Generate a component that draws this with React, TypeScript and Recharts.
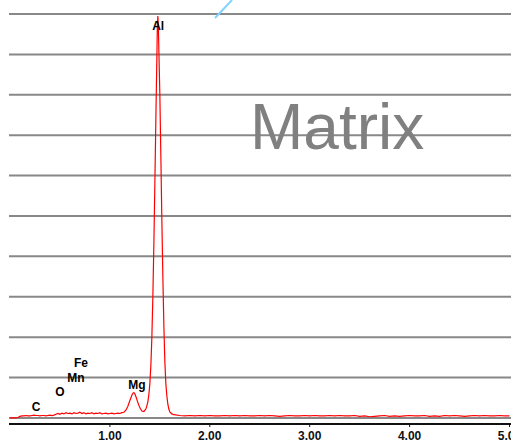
import { LineChart, Line, XAxis, YAxis, CartesianGrid, ReferenceDot } from "recharts";

// EDS spectrum, energy in keV, counts as % of the Al peak
const lowBackground: [number, number][] = [
  [0.0, 0], [0.02, 0], [0.04, 0], [0.06, 0], [0.08, 0.1], [0.1, 0.4],
  [0.12, 0.5], [0.14, 0.5], [0.16, 0.6], [0.18, 0.5], [0.2, 0.5], [0.22, 0.6],
  [0.24, 0.7], [0.26, 0.6], [0.28, 0.6], [0.3, 0.5], [0.32, 0.6], [0.34, 0.6],
  [0.36, 0.5], [0.38, 0.6], [0.4, 0.7], [0.42, 0.6], [0.44, 0.7], [0.46, 0.9],
  [0.48, 1.1], [0.5, 0.9], [0.52, 1.2], [0.54, 1.0], [0.56, 1.3], [0.58, 1.1],
  [0.6, 1.2], [0.62, 1.0], [0.64, 1.3], [0.66, 1.1], [0.68, 1.2], [0.7, 1.4],
  [0.72, 1.1], [0.74, 1.3], [0.76, 1.0], [0.78, 1.2], [0.8, 1.1], [0.82, 1.3],
  [0.84, 1.0], [0.86, 1.2], [0.88, 1.1], [0.9, 1.3], [0.92, 1.0], [0.94, 1.1],
  [0.96, 1.2], [0.98, 1.0], [1.0, 1.1], [1.02, 1.2], [1.04, 1.0], [1.06, 1.1],
  [1.08, 1.2], [1.1, 1.1], [1.12, 1.3],
];

const mgPeak: [number, number][] = [
  [1.14, 1.4], [1.16, 1.9], [1.18, 2.9], [1.2, 4.3], [1.22, 5.6], [1.23, 6.1],
  [1.24, 6.3], [1.25, 6.0], [1.26, 5.3], [1.28, 3.8], [1.3, 2.5], [1.32, 1.7],
  [1.34, 1.6],
];

const alPeak: [number, number][] = [
  [1.36, 2.2], [1.37, 3.0], [1.38, 4.0], [1.39, 5.8], [1.4, 8.5], [1.41, 13],
  [1.42, 20], [1.43, 30], [1.44, 43], [1.45, 58], [1.46, 74], [1.47, 89],
  [1.475, 97], [1.48, 99.5], [1.485, 97], [1.49, 91], [1.5, 80], [1.51, 65],
  [1.52, 49], [1.53, 35], [1.54, 23], [1.55, 14], [1.56, 8.5], [1.57, 5.5],
  [1.58, 3.4], [1.59, 2.2], [1.6, 1.5], [1.62, 1.0], [1.64, 0.8],
];

const highBackground: [number, number][] = [
  [1.7, 0.6], [1.75, 0.5], [1.8, 0.6], [1.85, 0.5], [1.9, 0.6], [1.95, 0.5],
  [2.0, 0.6], [2.05, 0.5], [2.1, 0.5], [2.15, 0.6], [2.2, 0.5], [2.25, 0.6],
  [2.3, 0.5], [2.35, 0.6], [2.4, 0.5], [2.45, 0.5], [2.5, 0.6], [2.55, 0.5],
  [2.6, 0.6], [2.65, 0.5], [2.7, 0.4], [2.75, 0.5], [2.8, 0.6], [2.85, 0.5],
  [2.9, 0.5], [2.95, 0.6], [3.0, 0.5], [3.05, 0.6], [3.1, 0.5], [3.15, 0.5],
  [3.2, 0.6], [3.25, 0.5], [3.3, 0.6], [3.35, 0.5], [3.4, 0.5], [3.45, 0.6],
  [3.5, 0.4], [3.55, 0.5], [3.6, 0.3], [3.65, 0.4], [3.7, 0.5], [3.75, 0.6],
  [3.8, 0.4], [3.85, 0.5], [3.9, 0.4], [3.95, 0.5], [4.0, 0.6], [4.05, 0.5],
  [4.1, 0.5], [4.15, 0.6], [4.2, 0.4], [4.25, 0.5], [4.3, 0.4], [4.35, 0.6],
  [4.4, 0.5], [4.45, 0.6], [4.5, 0.5], [4.55, 0.4], [4.6, 0.5], [4.65, 0.6],
  [4.7, 0.5], [4.75, 0.6], [4.8, 0.5], [4.85, 0.5], [4.9, 0.6], [4.95, 0.5],
  [5.0, 0.5],
];

const xTicks = [1, 2, 3, 4, 5];
const yTicks = [0, 10, 20, 30, 40, 50, 60, 70, 80, 90, 100];

const elementLabels = [
  { el: "C", e: 0.26, level: 2.8 },
  { el: "O", e: 0.5, level: 6.4 },
  { el: "Mn", e: 0.66, level: 9.9 },
  { el: "Fe", e: 0.71, level: 13.7 },
  { el: "Mg", e: 1.27, level: 8.2 },
  { el: "Al", e: 1.483, level: 97.0 },
];

const data = [...lowBackground, ...mgPeak, ...alPeak, ...highBackground].map(
  ([e, counts]) => ({ e, counts })
);

const font = "'Liberation Sans', Arial, sans-serif";

export default function App() {
  return (
    <div style={{ position: "absolute", left: 0, top: 0, width: 511, height: 443, background: "#fff" }}>
      <LineChart
        width={511}
        height={443}
        data={data}
        margin={{ top: 14, right: 0, bottom: 0, left: 9 }}
      >
        <CartesianGrid vertical={false} stroke="#888" strokeWidth={2} />
        <XAxis
          dataKey="e"
          type="number"
          domain={[-0.01, 5.015]}
          allowDataOverflow
          ticks={xTicks}
          interval={0}
          tickFormatter={(v: number) => v.toFixed(2)}
          height={19}
          tickSize={3}
          tickMargin={4}
          axisLine={{ stroke: "#111", strokeWidth: 2 }}
          tickLine={{ stroke: "#111" }}
          tick={{ fill: "#111", fontSize: 12, fontWeight: "bold", fontFamily: font }}
        />
        <YAxis hide domain={[-1.5, 100]} ticks={yTicks} allowDataOverflow />
        <Line
          dataKey="counts"
          type="linear"
          stroke="#ff0000"
          strokeWidth={1.2}
          dot={false}
          isAnimationActive={false}
        />
        {elementLabels.map((l) => (
          <ReferenceDot
            key={l.el}
            x={l.e}
            y={l.level}
            r={0}
            stroke="none"
            fill="none"
            ifOverflow="visible"
            label={{
              value: l.el,
              position: "center",
              fill: "#000",
              fontSize: 12,
              fontWeight: "bold",
              fontFamily: font,
            }}
          />
        ))}
      </LineChart>
      <div
        style={{
          position: "absolute",
          left: 250,
          top: 95,
          fontFamily: font,
          fontSize: 64,
          lineHeight: 1,
          color: "#808080",
          pointerEvents: "none",
        }}
      >
        Matrix
      </div>
      <svg
        width={511}
        height={443}
        style={{ position: "absolute", left: 0, top: 0, pointerEvents: "none" }}
      >
        <line x1={215} y1={18} x2={232} y2={0} stroke="#80d4ff" strokeWidth={2} />
      </svg>
    </div>
  );
}
